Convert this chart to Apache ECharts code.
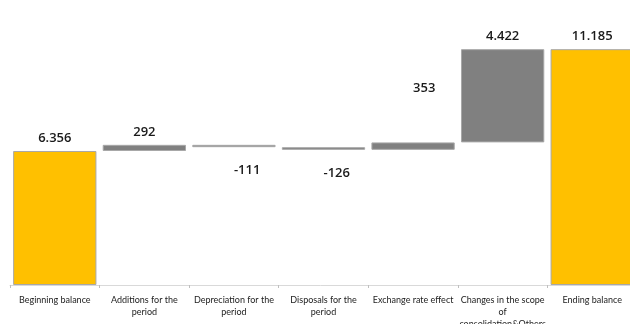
<!DOCTYPE html>
<html>
<head>
<meta charset="utf-8">
<script src="https://cdn.jsdelivr.net/npm/echarts@6/dist/echarts.min.js"></script>
<style>
  html, body { margin: 0; padding: 0; background: #fff; }
  #chart { width: 630px; height: 324px; }
</style>
</head>
<body>
<div id="chart"></div>
<script>
// Waterfall data
var categories = ['Beginning balance', 'Additions for the\nperiod', 'Depreciation for the\nperiod',
    'Disposals for the\nperiod', 'Exchange rate effect', 'Changes in the scope\nof\nconsolidation&Others',
    'Ending balance'];
var changes = [6356, 292, -111, -126, 353, 4422, 11185];
var isTotal = [true, false, false, false, false, false, true];

var yellow = '#FFC000';
var grey = '#808080';

// build invisible base + visible part from running total
var baseData = [];
var barData = [];
var running = 0;
for (var i = 0; i < changes.length; i++) {
    var v = changes[i];
    if (isTotal[i]) {
        baseData.push(0);
        barData.push({ value: v, itemStyle: { color: yellow } });
        running = v;
    } else {
        var from = running;
        running = running + v;
        baseData.push(Math.min(from, running));
        barData.push({ value: Math.abs(v), itemStyle: { color: grey } });
    }
}

function fmt(n) {
    var s = String(Math.abs(n)).replace(/\B(?=(\d{3})+(?!\d))/g, '.');
    return (n < 0 ? '-' : '') + s;
}

var chart = echarts.init(document.getElementById('chart'));
chart.setOption({
    animation: false,
    grid: { left: 10, right: -7, top: 32, bottom: 39, outerBoundsMode: 'none' },
    xAxis: {
        type: 'category',
        data: categories,
        axisLine: { lineStyle: { color: '#d9d9d9' } },
        axisTick: { show: true, length: 3, lineStyle: { color: '#bfbfbf' } },
        axisLabel: {
            interval: 0,
            color: '#222',
            fontFamily: 'Lato',
            fontSize: 9,
            lineHeight: 12,
            margin: 9
        }
    },
    yAxis: {
        type: 'value',
        min: 0,
        max: 12000,
        show: false,
        splitLine: { show: false }
    },
    series: [
        {
            type: 'bar',
            stack: 'wf',
            data: baseData,
            itemStyle: { color: 'transparent' },
            silent: true
        },
        {
            type: 'bar',
            stack: 'wf',
            barCategoryGap: '7%',
            data: barData,
            itemStyle: { borderColor: '#a8a8a8', borderWidth: 1 },
            label: {
                show: true,
                position: 'top',
                distance: 6,
                color: '#1a1a1a',
                fontFamily: 'Open Sans',
                fontWeight: 600,
                fontSize: 13,
                formatter: function (p) { return fmt(changes[p.dataIndex]); }
            },
            labelLayout: function (p) {
                var idx = p.dataIndex;
                if (changes[idx] < 0) {
                    return { y: p.rect.y + p.rect.height + 17 };
                }
                if (idx === 4) {
                    return { y: p.labelRect.y - 42 };
                }
                return {};
            }
        }
    ]
});
</script>
</body>
</html>
